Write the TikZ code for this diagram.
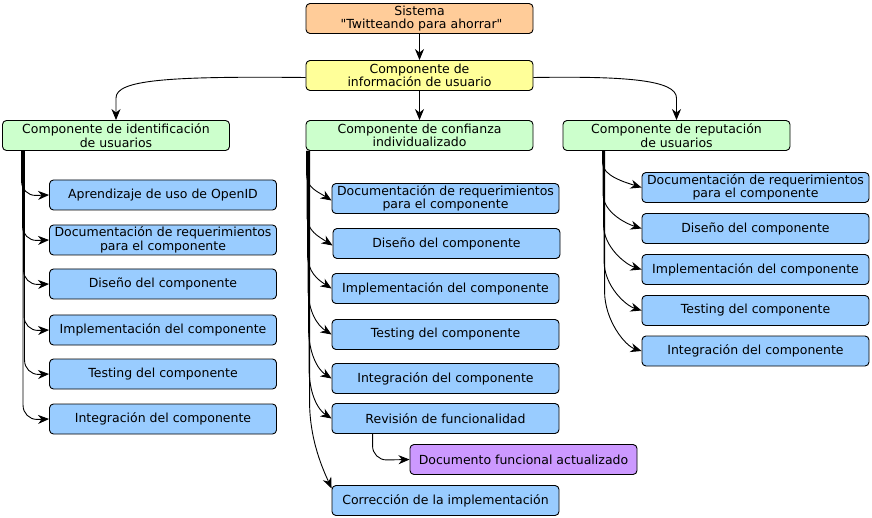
\documentclass[tikz,border=0pt]{standalone}
\usepackage{fontspec}
\setmainfont{DejaVu Sans}
\newfontfamily\plainfont{DejaVu Sans}
\usetikzlibrary{arrows.meta,calc}
\definecolor{cOrange}{RGB}{255,204,153}
\definecolor{cYellow}{RGB}{255,255,153}
\definecolor{cGreen}{RGB}{204,255,204}
\definecolor{cBlue}{RGB}{153,204,255}
\definecolor{cPurple}{RGB}{204,153,255}
\newcommand{\boxfont}{\fontsize{12.5bp}{13.6bp}\selectfont}
\tikzset{
  box/.style={draw=black, line width=0.9bp, rounded corners=4bp, minimum width=227bp,
    minimum height=30bp, inner sep=0pt, align=center, font=\boxfont},
  sysbox/.style={box, fill=cOrange},
  infobox/.style={box, fill=cYellow},
  compbox/.style={box, fill=cGreen},
  taskbox/.style={box, fill=cBlue},
  docbox/.style={box, fill=cPurple},
  arr/.style={draw=black, line width=0.9bp, -{Stealth[length=11bp,width=9bp,inset=3.5bp]}},
}
\begin{document}
\begin{tikzpicture}[x=1bp,y=-1bp]
\useasboundingbox[fill=white] (0,0) rectangle (872,518);

\node[sysbox] (sys) at (419.5,18.5) {Sistema\\ \ {\plainfont "Twitteando para ahorrar"}};
\node[infobox] (info) at (419.5,75.5) {Componente de\\información de usuario};
\node[compbox] (lg) at (116,135.5) {Componente de identificación\\de usuarios};
\node[compbox] (mg) at (419.5,135.5) {Componente de confianza\\individualizado};
\node[compbox] (rg) at (676.5,135.5) {Componente de reputación\\de usuarios};

% left tasks
\node[taskbox] (l1) at (163,195) {Aprendizaje de uso de OpenID};
\node[taskbox] (l2) at (163,240) {Documentación de requerimientos\\para el componente};
\node[taskbox] (l3) at (163,284) {Diseño del componente};
\node[taskbox] (l4) at (163,330) {Implementación del componente};
\node[taskbox] (l5) at (163,374) {Testing del componente};
\node[taskbox] (l6) at (163,419) {Integración del componente};

% middle tasks
\node[taskbox] (m1) at (445.5,198.5) {Documentación de requerimientos\\para el componente};
\node[taskbox] (m2) at (446.5,243.5) {Diseño del componente};
\node[taskbox] (m3) at (445.5,288.5) {Implementación del componente};
\node[taskbox] (m4) at (445.5,334.5) {Testing del componente};
\node[taskbox] (m5) at (445.5,378.5) {Integración del componente};
\node[taskbox] (m6) at (445.5,418.5) {Revisión de funcionalidad};
\node[docbox] (doc) at (523.5,459.5) {Documento funcional actualizado};
\node[taskbox] (m7) at (445.5,500.5) {Corrección de la implementación};

% right tasks
\node[taskbox] (r1) at (755.5,187.5) {Documentación de requerimientos\\para el componente};
\node[taskbox] (r2) at (755.5,228.5) {Diseño del componente};
\node[taskbox] (r3) at (755.5,269.5) {Implementación del componente};
\node[taskbox] (r4) at (755.5,310.5) {Testing del componente};
\node[taskbox] (r5) at (755.5,351) {Integración del componente};

% top connectors
\draw[arr] (sys) -- (info);
\draw[arr] (info) -- (mg);
\draw[arr] ([yshift=-2bp]info.west) .. controls ($(lg.north)+(50,-44)$) and ($(lg.north)+(0,-40)$) .. ($(lg.north)+(0,-22)$) -- (lg.north);
\draw[arr] ([yshift=-2bp]info.east) .. controls ($(rg.north)+(-50,-44)$) and ($(rg.north)+(0,-40)$) .. ($(rg.north)+(0,-22)$) -- (rg.north);

% left connectors
\draw[arr] ([xshift=19.5bp]lg.south west) -- ++(0,30.5) to[out=-90,in=180] ++(14,14) -- (l1.west);
\draw[arr] ([xshift=20.5bp]lg.south west) -- ++(0,75.5) to[out=-90,in=180] ++(14,14) -- (l2.west);
\draw[arr] ([xshift=21.5bp]lg.south west) -- ++(0,119.5) to[out=-90,in=180] ++(14,14) -- (l3.west);
\draw[arr] ([xshift=22bp]lg.south west) -- ++(0,165.5) to[out=-90,in=180] ++(14,14) -- (l4.west);
\draw[arr] ([xshift=22.5bp]lg.south west) -- ++(0,209.5) to[out=-90,in=180] ++(14,14) -- (l5.west);
\draw[arr] ([xshift=21bp]lg.south west) -- ++(0,254.5) to[out=-90,in=180] ++(14,14) -- (l6.west);

% middle connectors
\draw[arr] ([xshift=1bp]mg.south west) -- ++(0,23) .. controls +(0,14) and +(-14,-9) .. ([yshift=-2bp]m1.west);
\draw[arr] ([xshift=1.5bp]mg.south west) -- ++(0,65) .. controls +(0,15) and +(-14,-9) .. ([yshift=-2bp]m2.west);
\draw[arr] ([xshift=2bp]mg.south west) -- ++(0,103) .. controls +(0,18) and +(-14,-9) .. (m3.west);
\draw[arr] ([xshift=2.5bp]mg.south west) -- ++(0,137) .. controls +(0,24) and +(-14,-9) .. (m4.west);
\draw[arr] ([xshift=3bp]mg.south west) -- ++(0,177) .. controls +(0,25) and +(-14,-9) .. (m5.west);
\draw[arr] ([xshift=3.5bp]mg.south west) -- ++(0,217) .. controls +(0,25) and +(-14,-9) .. (m6.west);
\draw[arr] ([xshift=4bp]mg.south west) -- ++(0,250) .. controls +(0,40) and +(-8,-18) .. ([yshift=12bp]m7.west);
\draw[arr] ([xshift=41bp]m6.south west) -- ++(0,12) to[out=-90,in=180] ++(14,14) -- (doc.west);

% right connectors
\draw[arr] ([xshift=40bp]rg.south west) -- ++(0,12) .. controls +(0,13) and +(-16,-5) .. (r1.west);
\draw[arr] ([xshift=40.5bp]rg.south west) -- ++(0,43) .. controls +(0,18) and +(-16,-5) .. (r2.west);
\draw[arr] ([xshift=41bp]rg.south west) -- ++(0,74) .. controls +(0,22) and +(-16,-5) .. (r3.west);
\draw[arr] ([xshift=41.5bp]rg.south west) -- ++(0,110) .. controls +(0,25) and +(-16,-5) .. (r4.west);
\draw[arr] ([xshift=42bp]rg.south west) -- ++(0,140) .. controls +(0,30) and +(-16,-5) .. (r5.west);
\end{tikzpicture}
\end{document}
